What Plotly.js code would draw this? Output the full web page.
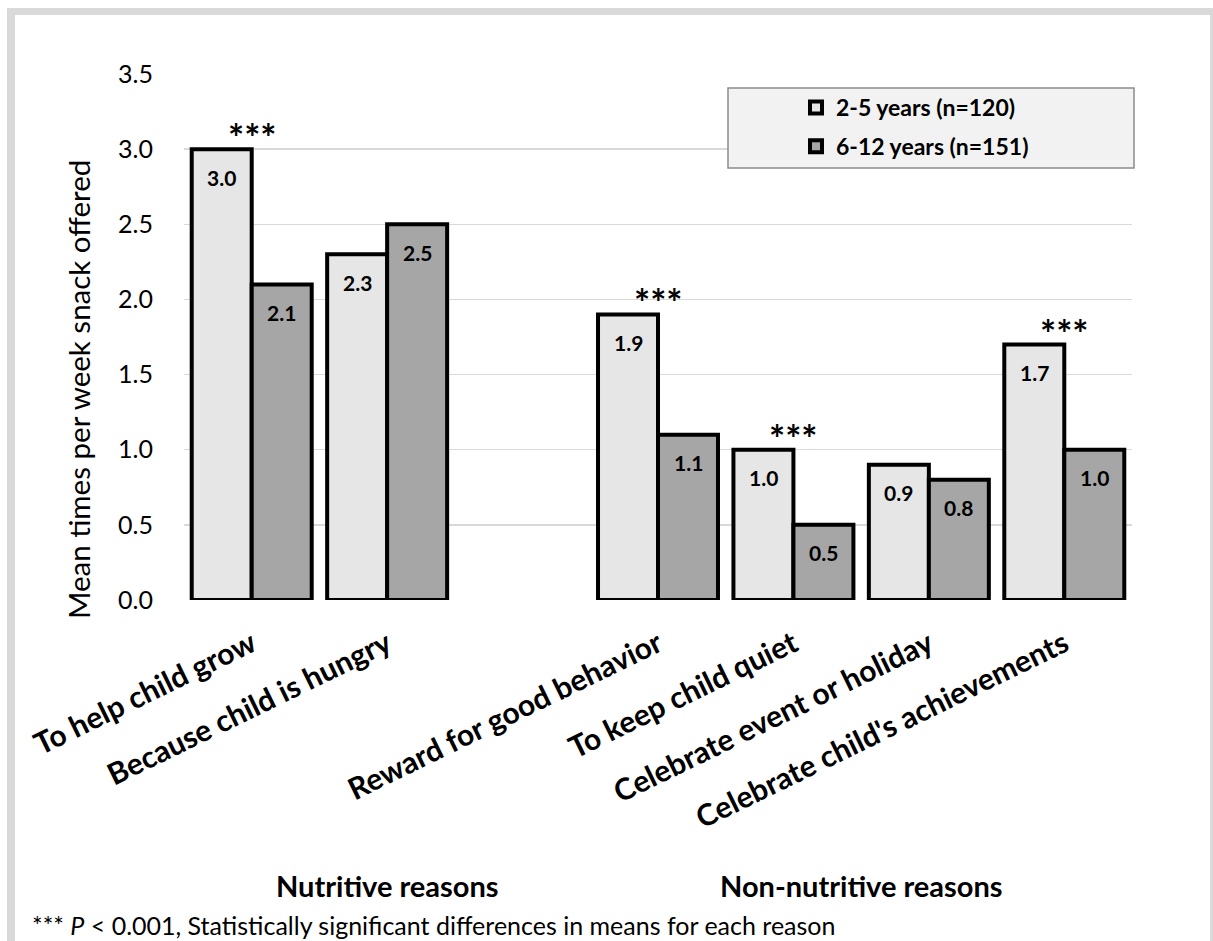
<!DOCTYPE html>
<html>
<head>
<meta charset="utf-8">
<script src="https://cdn.plot.ly/plotly-3.0.1.min.js"></script>
<style>
html,body{margin:0;padding:0;background:#fff;}
#chart{width:1213px;height:941px;}
</style>
</head>
<body>
<div id="chart"></div>
<script>
// ---- data ----
const categories = ["To help child grow", "Because child is hungry", "", "Reward for good behavior", "To keep child quiet", "Celebrate event or holiday", "Celebrate child's achievements"];
const young = [3.0, 2.3, null, 1.9, 1.0, 0.9, 1.7];   // 2-5 years
const older = [2.1, 2.5, null, 1.1, 0.5, 0.8, 1.0];   // 6-12 years
const significant = [true, false, false, true, true, false, true];
const seriesNames = ["2-5 years (n=120)", "6-12 years (n=151)"];
const groupLabels = ["Nutritive reasons", "Non-nutritive reasons"];
const groupMembers = [[1], [3, 4, 5, 6]];
const yTicks = [0, 0.5, 1.0, 1.5, 2.0, 2.5, 3.0, 3.5];
const yTitle = "Mean times per week snack offered";
const footnote = "*** <i>P</i> < 0.001, Statistically significant differences in means for each reason";

// ---- layout helpers ----
const FONT = "Lato, 'Open Sans', sans-serif";
const idx = categories.map((c, i) => i);
const W = 1213, H = 941, ML = 184, MR = 81, MT = 74, MB = 341;
const PW = W - ML - MR, PH = H - MT - MB;
const px = x => (x - ML) / PW;
const py = y => (H - MB - y) / PH;
const BW = 0.443;

const traces = [
  {
    type: "bar", name: seriesNames[0], x: idx, y: young,
    width: BW, offset: -BW,
    marker: {color: "#e6e6e6", line: {color: "#000", width: 4}},
    legendgroup: "a", hoverinfo: "y"
  },
  {
    type: "bar", name: seriesNames[1], x: idx, y: older,
    width: BW, offset: 0,
    marker: {color: "#a6a6a6", line: {color: "#000", width: 4}},
    legendgroup: "b", hoverinfo: "y"
  }
];

const annotations = [];
// value labels inside bars
[[young, -BW / 2], [older, BW / 2]].forEach(([vals, off]) => {
  vals.forEach((v, i) => {
    if (v == null) return;
    annotations.push({
      x: i + off, y: v, xref: "x", yref: "y", text: "<b>" + v.toFixed(1) + "</b>",
      showarrow: false, yanchor: "middle", yshift: -28,
      font: {family: FONT, size: 21, color: "#000"}
    });
  });
});
// significance stars
significant.forEach((s, i) => {
  if (!s) return;
  annotations.push({
    x: i, y: Math.max(young[i], older[i]), xref: "x", yref: "y",
    text: "<b>***</b>", showarrow: false, yanchor: "bottom", yshift: -13,
    font: {family: FONT, size: 38, color: "#000"}
  });
});
// group labels
groupLabels.forEach((g, k) => {
  const m = groupMembers[k];
  const cx = m.reduce((a, b) => a + b, 0) / m.length;
  annotations.push({
    x: cx, y: py(885), xref: "x", yref: "paper", text: "<b>" + g + "</b>",
    showarrow: false, xanchor: "center", yanchor: "middle",
    font: {family: FONT, size: 29, color: "#000"}
  });
});
// y-axis title
annotations.push({
  x: px(78), y: py(390), xref: "paper", yref: "paper", text: yTitle, textangle: -90,
  showarrow: false, xanchor: "center", yanchor: "middle",
  font: {family: FONT, size: 29.5, color: "#000"}
});
// footnote
annotations.push({
  x: px(30), y: py(925), xref: "paper", yref: "paper", text: footnote,
  showarrow: false, xanchor: "left", yanchor: "middle",
  font: {family: FONT, size: 25, color: "#000"}
});

const shapes = [
  // outer frame
  {type: "rect", xref: "paper", yref: "paper", x0: px(7), x1: px(15), y0: py(960), y1: py(8), fillcolor: "#d9d9d9", line: {width: 0}, layer: "below"},
  {type: "rect", xref: "paper", yref: "paper", x0: px(7), x1: px(1213), y0: py(15), y1: py(8), fillcolor: "#d9d9d9", line: {width: 0}, layer: "below"},
  {type: "rect", xref: "paper", yref: "paper", x0: px(1210), x1: px(1213), y0: py(960), y1: py(8), fillcolor: "#d9d9d9", line: {width: 0}, layer: "below"},
  // legend box
  {type: "rect", xref: "paper", yref: "paper", x0: px(728), x1: px(1134), y0: py(168), y1: py(88), fillcolor: "#f2f2f2", line: {color: "#8c8c8c", width: 1.5}, layer: "above"}
];

const layout = {
  width: W, height: H,
  margin: {l: ML, r: MR, t: MT, b: MB},
  paper_bgcolor: "#fff", plot_bgcolor: "#fff",
  font: {family: FONT, color: "#000"},
  barmode: "group", bargap: 0.114, bargroupgap: 0,
  showlegend: true,
  legend: {
    x: px(796), y: py(86), xanchor: "left", yanchor: "top",
    bgcolor: "rgba(0,0,0,0)", borderwidth: 0,
    font: {family: FONT, size: 23, color: "#000", weight: "bold"},
    traceorder: "grouped", tracegroupgap: 6, itemwidth: 30
  },
  xaxis: {
    range: [-0.5, categories.length - 0.5],
    tickmode: "array", tickvals: idx, ticktext: categories.map(c => c ? "<b>" + c + "</b>" : ""),
    tickangle: -26, tickfont: {family: FONT, size: 30, color: "#000"},
    showgrid: false, zeroline: false, showline: false, ticks: "", ticklabelstandoff: 20, fixedrange: true
  },
  yaxis: {
    range: [0, 3.5], tickmode: "array", tickvals: yTicks, ticktext: yTicks.map(v => v.toFixed(1)),
    tickfont: {family: FONT, size: 25, color: "#000"},
    showgrid: true, gridcolor: "#d9d9d9", gridwidth: 1.5, zeroline: false, showline: false,
    ticks: "", ticklabelstandoff: 30, fixedrange: true
  },
  annotations: annotations,
  shapes: shapes
};

Plotly.newPlot("chart", traces, layout, {displayModeBar: false, staticPlot: true});
</script>
</body>
</html>
